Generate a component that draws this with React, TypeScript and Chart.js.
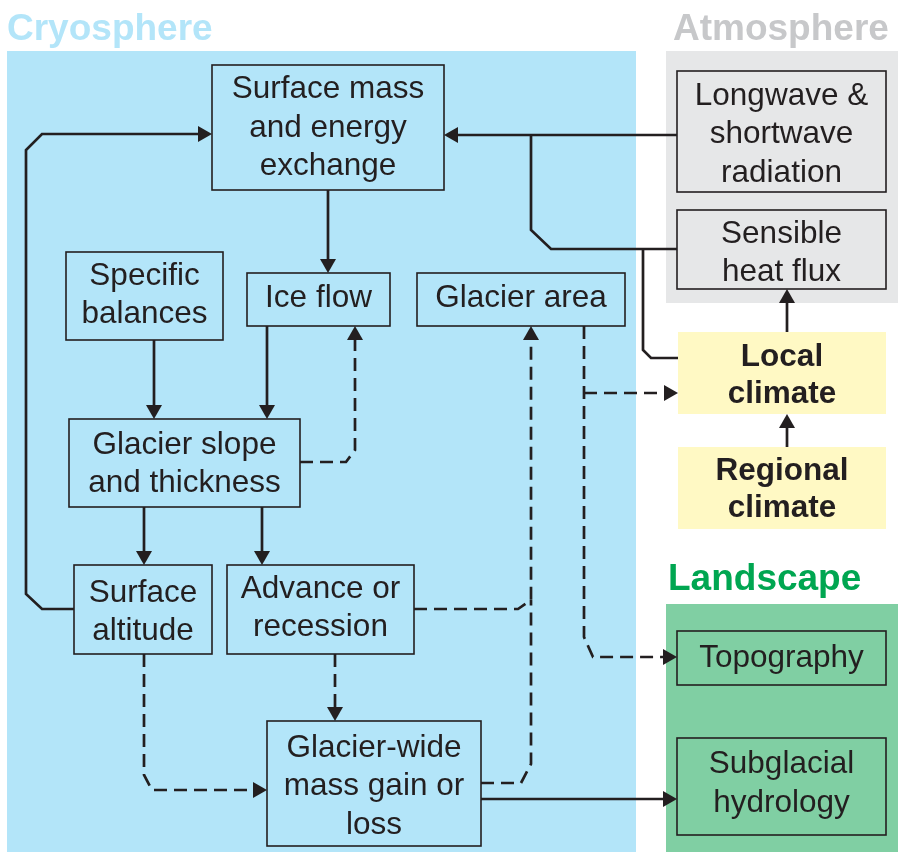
import React, { useEffect, useRef } from 'react';
import { Chart, registerables } from 'chart.js';

Chart.register(...registerables);

const W = 898;
const H = 852;

// Panels (groups)
const panelTitles = ['Cryosphere', 'Atmosphere', 'Landscape'];
const panelRects = [
  [7, 51, 629, 801],
  [666, 51, 232, 252],
  [666, 604, 232, 248],
];
const panelFill = ['#b3e5f9', '#e6e7e8', '#80cfa3'];
const panelTitleColor = ['#b3e5f9', '#c7c8ca', '#00a651'];
const panelTitlePos = [
  [7, 40],
  [673, 40],
  [668, 590],
];

// Nodes
const nodeLabels = [
  'Surface mass\nand energy\nexchange',
  'Longwave &\nshortwave\nradiation',
  'Sensible\nheat flux',
  'Specific\nbalances',
  'Ice flow',
  'Glacier area',
  'Glacier slope\nand thickness',
  'Local\nclimate',
  'Regional\nclimate',
  'Surface\naltitude',
  'Advance or\nrecession',
  'Glacier-wide\nmass gain or\nloss',
  'Topography',
  'Subglacial\nhydrology',
];
const nodeRects = [
  [212, 65, 232, 125],
  [677, 71, 209, 121],
  [677, 210, 209, 79],
  [66, 252, 157, 88],
  [247, 273, 143, 53],
  [417, 273, 208, 53],
  [69, 419, 231, 88],
  [678, 332, 208, 82],
  [678, 447, 208, 82],
  [74, 565, 138, 89],
  [227, 565, 187, 89],
  [267, 721, 214, 125],
  [677, 631, 209, 54],
  [677, 738, 209, 97],
];
const nodeTextY = [125.5, 132, 251, 293, 295.7, 295.7, 462, 373.7, 487.5, 610, 606, 784.4, 655.7, 781.5];
const nodeIsClimate = [false, false, false, false, false, false, false, true, true, false, false, false, false, false];

// Edges
const edgePaths = [
  [[328, 190], [328, 273]],
  [[677, 135], [444, 135]],
  [[677, 249], [551, 249], [531, 230], [531, 135]],
  [[678, 358], [651, 358], [643, 350], [643, 249]],
  [[787, 332], [787, 289]],
  [[787, 447], [787, 414]],
  [[154, 340], [154, 419]],
  [[267, 326], [267, 419]],
  [[300, 462], [346, 462], [355, 450], [355, 326]],
  [[144, 507], [144, 565]],
  [[262, 507], [262, 565]],
  [[74, 609], [42, 609], [26, 594], [26, 150], [42, 134], [212, 134]],
  [[144, 654], [144, 775], [152, 790], [267, 790]],
  [[335, 654], [335, 721]],
  [[414, 609], [518, 609], [531, 600], [531, 326]],
  [[481, 783], [521, 783], [531, 764], [531, 600]],
  [[584, 326], [584, 637], [593, 657], [677, 657]],
  [[584, 393], [678, 393]],
  [[481, 799], [677, 799]],
];
const edgeDashed = [false, false, false, false, false, false, false, false, true, false, false, false, true, true, true, true, true, true, false];
const edgeArrow = [true, true, false, false, true, true, true, true, true, true, true, true, true, true, true, false, true, true, true];

const INK = '#231f20';
const FONT = '"Liberation Sans", Arial, Helvetica, sans-serif';
const ARROW_LEN = 14;
const ARROW_HALF = 8;

const diagramPlugin = {
  id: 'diagram',
  beforeDatasetsDraw(chart: any) {
    const { ctx, scales } = chart;
    const xs = scales.x;
    const ys = scales.y;
    const px = (v: number) => xs.getPixelForValue(v);
    const py = (v: number) => ys.getPixelForValue(v);
    ctx.save();
    // panels
    panelRects.forEach((r, i) => {
      ctx.fillStyle = panelFill[i];
      ctx.fillRect(px(r[0]), py(r[1]), px(r[0] + r[2]) - px(r[0]), py(r[1] + r[3]) - py(r[1]));
    });
    // titles
    ctx.font = `bold 37px ${FONT}`;
    ctx.textAlign = 'left';
    ctx.textBaseline = 'alphabetic';
    panelTitles.forEach((t, i) => {
      ctx.fillStyle = panelTitleColor[i];
      ctx.fillText(t, px(panelTitlePos[i][0]), py(panelTitlePos[i][1]));
    });
    // nodes
    nodeRects.forEach((r, i) => {
      const x0 = px(r[0]);
      const y0 = py(r[1]);
      const w = px(r[0] + r[2]) - x0;
      const h = py(r[1] + r[3]) - y0;
      if (nodeIsClimate[i]) {
        ctx.fillStyle = '#fff9c4';
        ctx.fillRect(x0, y0, w, h);
      } else {
        ctx.strokeStyle = INK;
        ctx.lineWidth = 1.6;
        ctx.strokeRect(x0, y0, w, h);
      }
      const lines = nodeLabels[i].split('\n');
      const bold = nodeIsClimate[i];
      const lh = bold ? 37 : 38.5;
      ctx.font = `${bold ? 'bold ' : ''}31.5px ${FONT}`;
      ctx.fillStyle = INK;
      ctx.textAlign = 'center';
      ctx.textBaseline = 'alphabetic';
      const cx = px(r[0] + r[2] / 2);
      lines.forEach((ln, k) => {
        const by = nodeTextY[i] + (k - (lines.length - 1) / 2) * lh + 11;
        ctx.fillText(ln, cx, py(by));
      });
    });
    ctx.restore();
  },
  afterDatasetsDraw(chart: any) {
    const { ctx, scales } = chart;
    const xs = scales.x;
    const ys = scales.y;
    ctx.save();
    ctx.fillStyle = INK;
    edgePaths.forEach((p, i) => {
      if (!edgeArrow[i]) return;
      const a = p[p.length - 2];
      const b = p[p.length - 1];
      const ax = xs.getPixelForValue(a[0]);
      const ay = ys.getPixelForValue(a[1]);
      const bx = xs.getPixelForValue(b[0]);
      const by = ys.getPixelForValue(b[1]);
      const len = Math.hypot(bx - ax, by - ay) || 1;
      const ux = (bx - ax) / len;
      const uy = (by - ay) / len;
      const baseX = bx - ux * ARROW_LEN;
      const baseY = by - uy * ARROW_LEN;
      ctx.beginPath();
      ctx.moveTo(bx, by);
      ctx.lineTo(baseX - uy * ARROW_HALF, baseY + ux * ARROW_HALF);
      ctx.lineTo(baseX + uy * ARROW_HALF, baseY - ux * ARROW_HALF);
      ctx.closePath();
      ctx.fill();
    });
    ctx.restore();
  },
};

export default function App() {
  const canvasRef = useRef<HTMLCanvasElement | null>(null);

  useEffect(() => {
    document.body.style.margin = '0';
    document.body.style.overflow = 'hidden';
    const canvas = canvasRef.current;
    if (!canvas) return;

    const datasets = edgePaths.map((p, i) => {
      const pts = p.map((q) => ({ x: q[0], y: q[1] }));
      if (edgeArrow[i]) {
        const a = pts[pts.length - 2];
        const b = pts[pts.length - 1];
        const len = Math.hypot(b.x - a.x, b.y - a.y) || 1;
        pts[pts.length - 1] = { x: b.x - ((b.x - a.x) / len) * 8, y: b.y - ((b.y - a.y) / len) * 8 };
      }
      return {
        label: `edge${i}`,
        data: pts,
        showLine: true,
        borderColor: INK,
        borderWidth: 2.7,
        borderDash: edgeDashed[i] ? [13, 7] : [],
        borderCapStyle: 'butt',
        borderJoinStyle: 'miter',
        pointRadius: 0,
        pointHoverRadius: 0,
        fill: false,
        tension: 0,
        clip: false,
      };
    });

    const chart = new Chart(canvas, {
      type: 'scatter',
      data: { datasets: datasets as any },
      options: {
        responsive: false,
        maintainAspectRatio: false,
        devicePixelRatio: 1,
        animation: false,
        events: [],
        layout: { padding: 0 },
        plugins: { legend: { display: false }, tooltip: { enabled: false } },
        scales: {
          x: { type: 'linear', display: false, min: 0, max: W },
          y: { type: 'linear', display: false, min: 0, max: H, reverse: true },
        },
      },
      plugins: [diagramPlugin],
    });
    return () => chart.destroy();
  }, []);

  return (
    <div style={{ width: W, height: H }}>
      <canvas ref={canvasRef} width={W} height={H} style={{ display: 'block', width: W, height: H }} />
    </div>
  );
}
